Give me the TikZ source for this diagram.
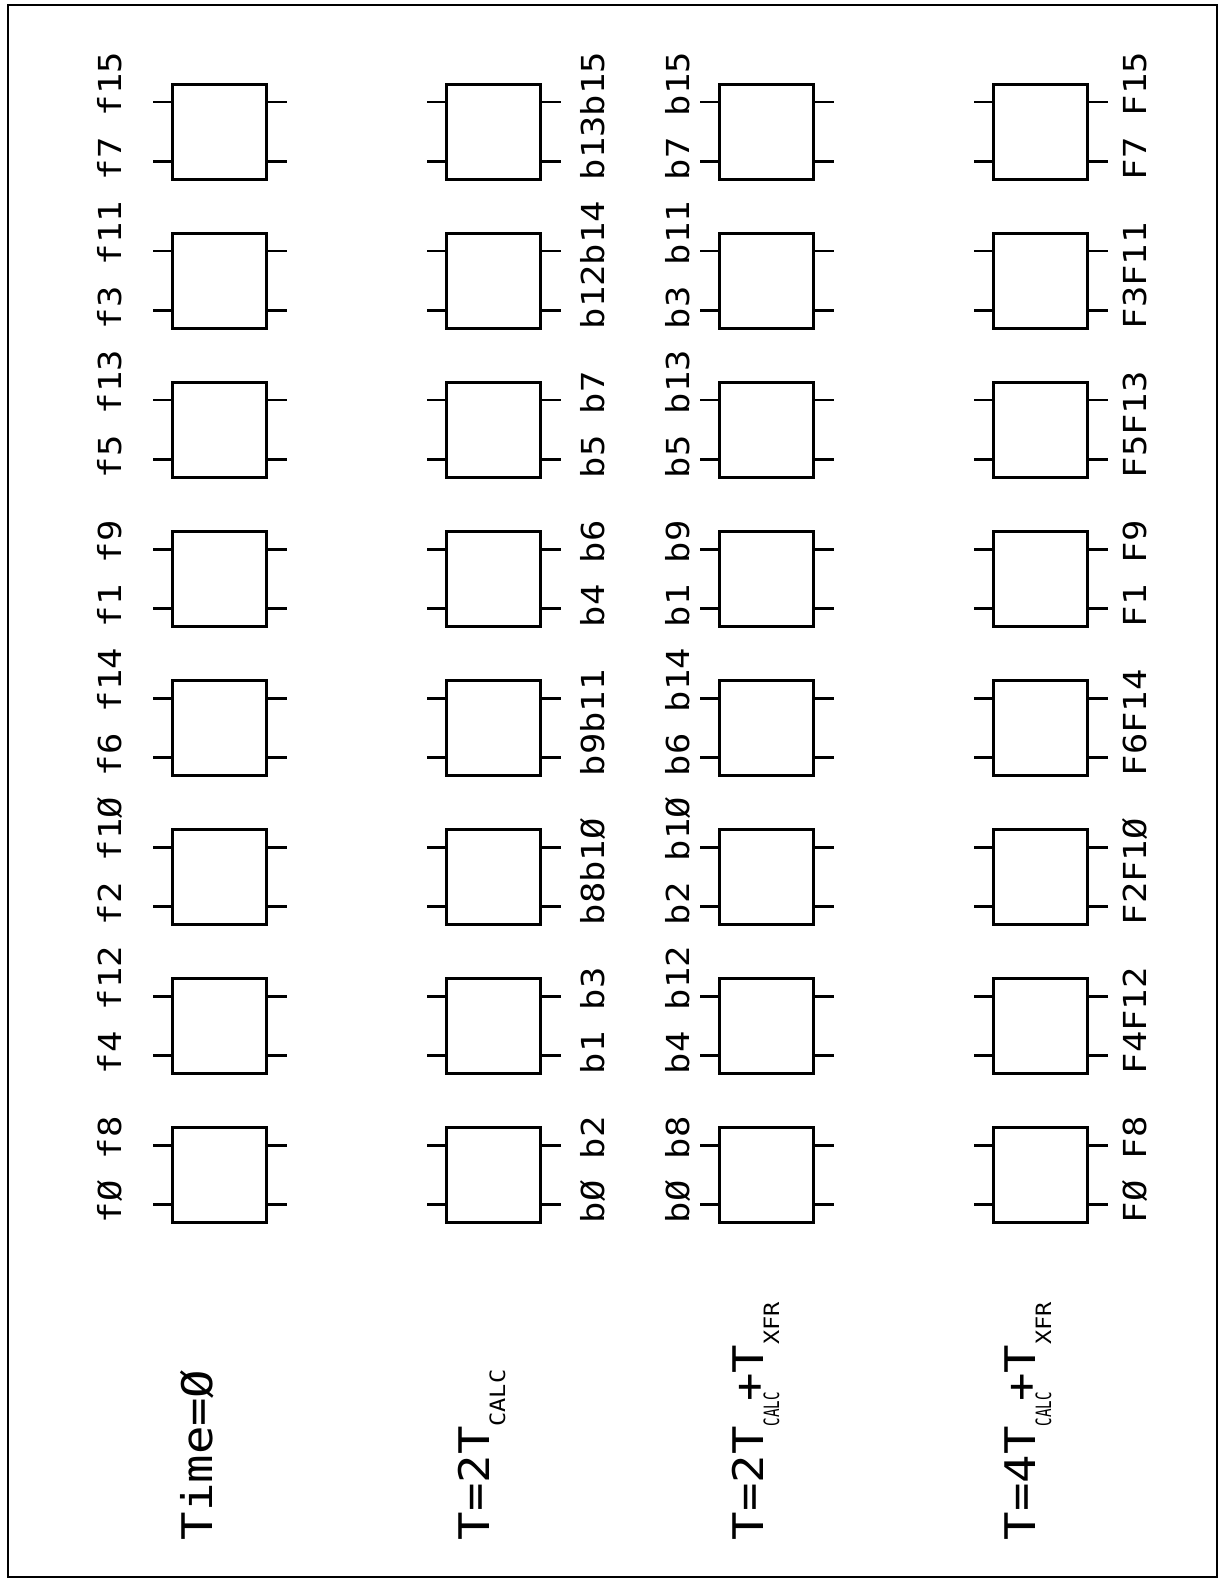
\documentclass[tikz,border=0pt]{standalone}
\usepackage{fontspec}
\usepackage{graphicx}
\newfontfamily\plotfont[FakeStretch=1.12]{DejaVu Sans Mono}
\newcommand{\subtxt}[1]{\raisebox{-4.6pt}{\fontsize{6}{6}\selectfont #1}}
\newcommand{\squeezesub}[1]{\raisebox{-4.6pt}{\scalebox{0.6}[1]{\fontsize{6}{6}\selectfont #1}}}
\usetikzlibrary{calc}

\begin{document}
\begin{tikzpicture}[
    x=0.01cm, y=-0.01cm,
    cell/.style={draw, line width=0.85pt, minimum width=0.94cm, minimum height=0.95cm,
                 inner sep=0pt, anchor=north west},
    lead/.style={line width=0.85pt},
    pinlabel/.style={rotate=90, anchor=base west, inner sep=0pt,
                     font=\plotfont\fontsize{9}{9}\selectfont},
    stamp/.style={rotate=90, anchor=base west, inner sep=0pt,
                  font=\plotfont\fontsize{12}{12}\selectfont},
  ]
  \useasboundingbox (0,0) rectangle (1226,1580);

  % ---- page frame ---------------------------------------------------------
  \draw[line width=0.6pt] (8,5) rectangle (1217,1577);

  % ---- the four rows of butterfly cells -----------------------------------
  \foreach \r/\la/\lb/\lc/\ld in {
      0/f7 f15/b13b15/b7 b15/F7 F15,
      1/f3 f11/b12b14/b3 b11/F3F11,
      2/f5 f13/b5 b7/b5 b13/F5F13,
      3/f1 f9/b4 b6/b1 b9/F1 F9,
      4/f6 f14/b9b11/b6 b14/F6F14,
      5/f2 f1Ø/b8b1Ø/b2 b1Ø/F2F1Ø,
      6/f4 f12/b1 b3/b4 b12/F4F12,
      7/fØ f8/bØ b2/bØ b8/FØ F8}{
    \foreach \c/\bx/\lx/\txt in {a/171/121/\la, b/445/604/\lb, c/718/689/\lc, d/992/1146/\ld}{
      \node[cell] (\c\r) at (\bx,{83+149*\r}) {};
      \draw[lead] ([yshift=-0.19cm]\c\r.north west) -- ++(-18,0);
      \draw[lead] ([yshift=0.20cm]\c\r.south west) -- ++(-18,0);
      \draw[lead] ([yshift=-0.19cm]\c\r.north east) -- ++(19,0);
      \draw[lead] ([yshift=0.20cm]\c\r.south east) -- ++(19,0);
      \node[pinlabel] (\c\r-txt) at (\lx,{83+149*\r+98}) {\txt};
    }
  }

  % ---- time stamps under each row -----------------------------------------
  \node[stamp] (stampa) at (212,1541) {Time=Ø};
  \node[stamp] (stampb) at (489,1541) {T=2T\subtxt{CALC}};
  \node[stamp] (stampc) at (763,1541) {T=2T\rlap{\squeezesub{CALC}}\hspace{7pt}+T\subtxt{XFR}};
  \node[stamp] (stampd) at (1035,1541) {T=4T\rlap{\squeezesub{CALC}}\hspace{7pt}+T\subtxt{XFR}};

\end{tikzpicture}
\end{document}
